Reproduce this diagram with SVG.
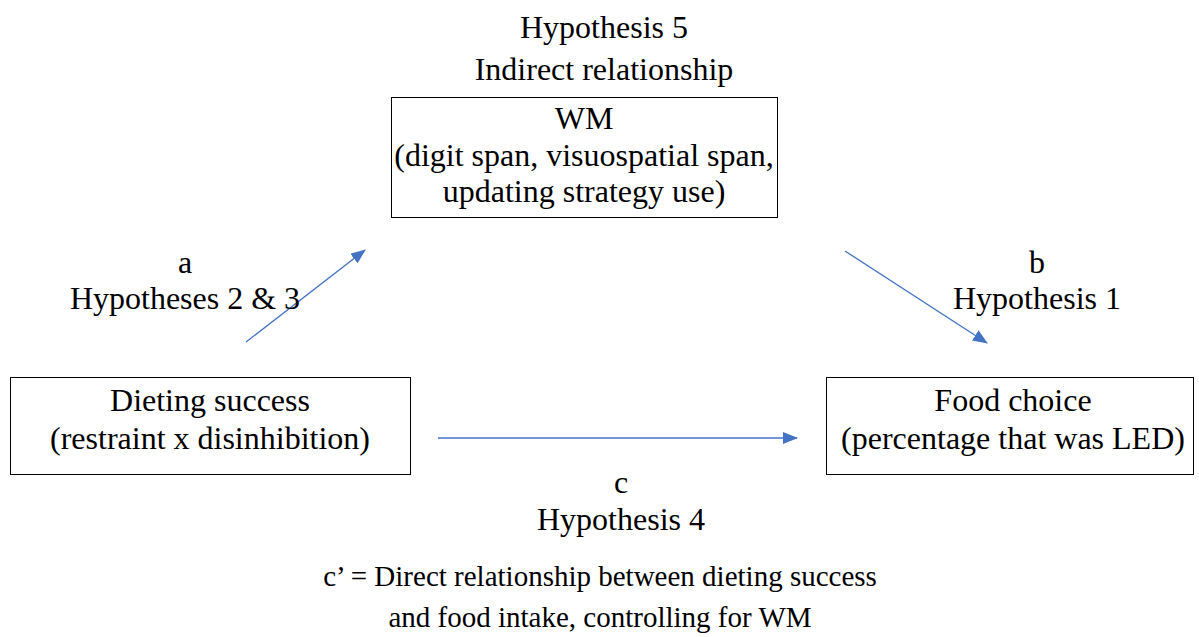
<svg xmlns="http://www.w3.org/2000/svg" width="1199" height="637" viewBox="0 0 1199 637" font-family="'Liberation Serif', 'Times New Roman', Tinos, serif">
<defs>
<style>
text{font-family:'Liberation Serif','Times New Roman',Tinos,serif;font-size:32px;fill:#000;text-anchor:middle}
text.note{font-size:29px}
.box{fill:#fff;stroke:#000;stroke-width:1}
.conn{stroke:#4472C4;stroke-width:1.3;fill:none;marker-end:url(#ah)}
</style>
<marker id="ah" markerWidth="15" markerHeight="12" refX="14" refY="6" orient="auto" markerUnits="userSpaceOnUse"><path d="M0,0 L15,6 L0,12 z" fill="#4472C4"/></marker>
</defs>
<rect width="1199" height="637" fill="#fff"/>
<g id="title">
<text x="604" y="38">Hypothesis 5</text>
<text x="604" y="80">Indirect relationship</text>
</g>
<g id="wm">
<rect class="box" x="391.5" y="97.5" width="386" height="120"/>
<text x="584" y="129">WM</text>
<text x="584" y="166">(digit span, visuospatial span,</text>
<text x="584" y="202">updating strategy use)</text>
</g>
<g id="dieting">
<rect class="box" x="10.5" y="377.5" width="400" height="97"/>
<text x="210" y="411">Dieting success</text>
<text x="210" y="449">(restraint x disinhibition)</text>
</g>
<g id="food">
<rect class="box" x="826.5" y="377.5" width="367" height="97"/>
<text x="1013" y="411">Food choice</text>
<text x="1013" y="449">(percentage that was LED)</text>
</g>
<g id="connectors">
<line class="conn" x1="246" y1="342" x2="365" y2="250"/>
<line class="conn" x1="845" y1="251" x2="987" y2="343"/>
<line class="conn" x1="438" y1="438" x2="797" y2="438"/>
</g>
<g id="labels">
<text x="185" y="273">a</text>
<text x="185" y="309">Hypotheses 2 &amp; 3</text>
<text x="1037" y="273">b</text>
<text x="1037" y="309">Hypothesis 1</text>
<text x="621" y="493">c</text>
<text x="621" y="530">Hypothesis 4</text>
<text class="note" x="600" y="586">c’ = Direct relationship between dieting success</text>
<text class="note" x="600" y="627">and food intake, controlling for WM</text>
</g>
</svg>
